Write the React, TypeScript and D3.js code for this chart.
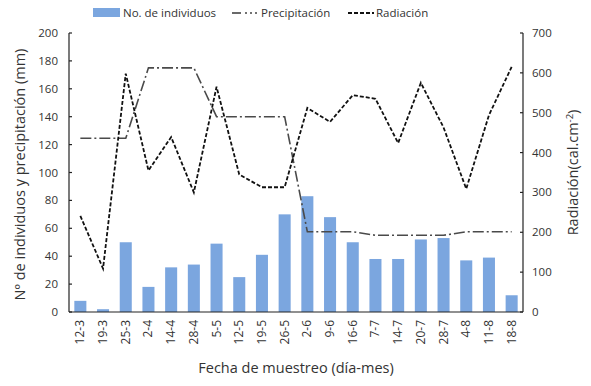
import React from 'react';
import * as d3 from 'd3';

const FECHAS = ['12-3', '19-3', '25-3', '2-4', '14-4', '28-4', '5-5', '12-5', '19-5', '26-5', '2-6', '9-6', '16-6', '7-7', '14-7', '20-7', '28-7', '4-8', '11-8', '18-8'];
const INDIVIDUOS = [8, 2, 50, 18, 32, 34, 49, 25, 41, 70, 83, 68, 50, 38, 38, 52, 53, 37, 39, 12];
const PRECIPITACION = [124.5, 124.5, 124.5, 175, 175, 175, 140, 140, 140, 140, 57.5, 57.5, 57.5, 55, 55, 55, 55, 57.5, 57.5, 57.5];
const RADIACION = [241, 109, 598, 355, 439, 300, 565, 345, 313, 313, 512, 477, 544, 535, 424, 575, 463, 309, 494, 615];
const LEFT_TICKS = [0, 20, 40, 60, 80, 100, 120, 140, 160, 180, 200];
const RIGHT_TICKS = [0, 100, 200, 300, 400, 500, 600, 700];

const W = 591;
const H = 386;
const margin = { top: 33, right: 68, bottom: 74, left: 69 };
const FONT = '"Open Sans", "Liberation Sans", sans-serif';
const TXT = '#333';
const BAR = '#7ba6df';

export default function App() {
  const x = d3.scaleBand<string>().domain(FECHAS).range([margin.left, W - margin.right]).paddingInner(0.47).paddingOuter(0.235);
  const yL = d3.scaleLinear().domain([0, 200]).range([H - margin.bottom, margin.top]);
  const yR = d3.scaleLinear().domain([0, 700]).range([H - margin.bottom, margin.top]);
  const cx = (d: string) => (x(d) ?? 0) + x.bandwidth() / 2;

  const precipLine = d3.line<number>().x((_, i) => cx(FECHAS[i])).y((d) => yL(d));
  const radLine = d3.line<number>().x((_, i) => cx(FECHAS[i])).y((d) => yR(d));

  const x0 = margin.left;
  const x1 = W - margin.right;
  const yb = H - margin.bottom;

  return (
    <svg width={W} height={H} style={{ position: 'absolute', left: 0, top: 0, background: '#fff' }} fontFamily={FONT}>
      {/* legend */}
      <g fontSize={11.5} fill={TXT}>
        <rect x={93} y={8} width={27} height={9} fill={BAR} />
        <text x={123} y={17}>No. de individuos</text>
        <line x1={232} x2={241} y1={13} y2={13} stroke="#444" strokeWidth={1.6} />
        <line x1={245} x2={258} y1={13} y2={13} stroke="#444" strokeWidth={1.6} strokeDasharray="2,3" />
        <text x={261} y={17}>Precipitación</text>
        <line x1={348} x2={374} y1={13} y2={13} stroke="#111" strokeWidth={1.8} strokeDasharray="4,2" />
        <text x={376} y={17}>Radiación</text>
      </g>

      {/* bars */}
      {INDIVIDUOS.map((v, i) => (
        <rect key={FECHAS[i]} x={x(FECHAS[i])} y={yL(v)} width={x.bandwidth()} height={yb - yL(v)} fill={BAR} />
      ))}

      {/* lines */}
      <path d={precipLine(PRECIPITACION) ?? ''} fill="none" stroke="#4a4a4a" strokeWidth={1.6} strokeDasharray="11,3,2,3" />
      <path d={radLine(RADIACION) ?? ''} fill="none" stroke="#111" strokeWidth={1.8} strokeDasharray="4,2" />

      {/* axes */}
      <g stroke="#222" strokeWidth={1.2}>
        <line x1={x0} x2={x0} y1={margin.top} y2={yb} />
        <line x1={x1} x2={x1} y1={margin.top} y2={yb} />
        <line x1={x0} x2={x1} y1={yb} y2={yb} />
        {LEFT_TICKS.map((t) => (
          <line key={'lt' + t} x1={x0} x2={x0 + 3} y1={yL(t)} y2={yL(t)} />
        ))}
        {RIGHT_TICKS.map((t) => (
          <line key={'rt' + t} x1={x1 - 3} x2={x1} y1={yR(t)} y2={yR(t)} />
        ))}
      </g>
      <g fontSize={11.5} fill={TXT}>
        {LEFT_TICKS.map((t) => (
          <text key={'ll' + t} x={x0 - 11} y={yL(t) + 4} textAnchor="end">{t}</text>
        ))}
        {RIGHT_TICKS.map((t) => (
          <text key={'rl' + t} x={x1 + 9} y={yR(t) + 4}>{t}</text>
        ))}
        {FECHAS.map((f) => (
          <text key={'xl' + f} fontSize={12} transform={`translate(${cx(f) + 4},${yb + 8}) rotate(-90)`} textAnchor="end">{f}</text>
        ))}
      </g>

      {/* axis titles */}
      <g fontSize={14.5} fill={TXT}>
        <text x={(x0 + x1) / 2} y={373} textAnchor="middle">Fecha de muestreo (día-mes)</text>
        <text transform={`translate(25,${(margin.top + yb) / 2 + 2}) rotate(-90)`} textAnchor="middle">Nº de individuos y precipitación (mm)</text>
        <text transform={`translate(578,${(margin.top + yb) / 2}) rotate(-90)`} textAnchor="middle">
          Radiación(cal.cm<tspan dy={-5} fontSize={9.5}>-2</tspan><tspan dy={5}>)</tspan>
        </text>
      </g>
    </svg>
  );
}
